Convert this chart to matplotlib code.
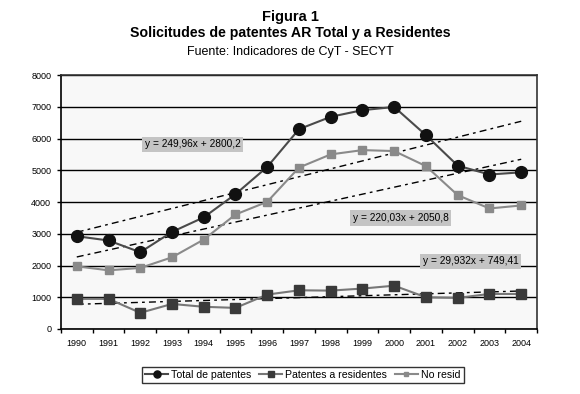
import matplotlib
matplotlib.use("Agg")
import matplotlib.pyplot as plt
import numpy as np

plt.rcParams["font.family"] = ["Liberation Sans", "DejaVu Sans"]

years = ["1990", "1991", "1992", "1993", "1994", "1995", "1996", "1997",
         "1998", "1999", "2000", "2001", "2002", "2003", "2004"]
total = [2925, 2790, 2420, 3060, 3520, 4250, 5110, 6300, 6690, 6900, 7000,
         6110, 5150, 4870, 4940]
residentes = [950, 950, 510, 790, 700, 665, 1085, 1220, 1210, 1275, 1365,
              1000, 980, 1105, 1105]
no_resid = [1975, 1850, 1925, 2260, 2820, 3610, 4010, 5090, 5505, 5640, 5610,
            5135, 4220, 3800, 3895]

# linear trend coefficients (slope, intercept), x = 1..15
trend_total = (249.96, 2800.2)
trend_nores = (220.03, 2050.8)
trend_res = (29.932, 749.41)
eq_labels = ["y = 249,96x + 2800,2", "y = 220,03x + 2050,8", "y = 29,932x + 749,41"]

fig = plt.figure(figsize=(5.8, 3.94), dpi=100)
ax = fig.add_axes([0.105, 0.165, 0.821, 0.644])
ax.set_facecolor("#f8f8f8")

x = np.arange(len(years))
xn = x + 1

for (m, b) in [trend_total, trend_nores, trend_res]:
    ax.plot([x[0], x[-1]], [m * xn[0] + b, m * xn[-1] + b], color="black",
            lw=1.0, linestyle=(0, (5, 3, 2, 3)), zorder=2)

ax.plot(x, no_resid, color="#8a8a8a", lw=1.5, marker="s", ms=6,
        mfc="#8a8a8a", mec="#8a8a8a", label="No resid", zorder=3)
ax.plot(x, residentes, color="#777777", lw=1.5, marker="s", ms=7.5,
        mfc="#3a3a3a", mec="#3a3a3a", label="Patentes a residentes", zorder=3)
ax.plot(x, total, color="#4a4a4a", lw=1.5, marker="o", ms=8.5,
        mfc="#111111", mec="#111111", label="Total de patentes", zorder=4)

box = dict(boxstyle="square,pad=0.25", fc="#c4c4c4", ec="none")
ax.text(3.65, 5830, eq_labels[0], fontsize=7.3, ha="center", va="center", bbox=box, zorder=5)
ax.text(10.2, 3500, eq_labels[1], fontsize=7.3, ha="center", va="center", bbox=box, zorder=5)
ax.text(12.4, 2130, eq_labels[2], fontsize=7.3, ha="center", va="center", bbox=box, zorder=5)

ax.set_xlim(-0.5, len(years) - 0.5)
ax.set_ylim(0, 8000)
ax.set_yticks(range(0, 8001, 1000))
ax.tick_params(axis="y", labelsize=6.5, length=3, width=1, pad=4)
ax.set_xticks(x)
ax.set_xticklabels(years)
ax.set_xticks(np.arange(-0.5, len(years), 1), minor=True)
ax.tick_params(axis="x", which="major", length=0, labelsize=6.5, pad=7)
ax.tick_params(axis="x", which="minor", length=3, width=1)
ax.yaxis.grid(True, color="black", lw=1.0)
ax.set_axisbelow(True)
for s in ["left", "bottom"]:
    ax.spines[s].set_color("black")
    ax.spines[s].set_linewidth(1.2)
for s in ["top", "right"]:
    ax.spines[s].set_color("#333333")
    ax.spines[s].set_linewidth(1.2)

h, l = ax.get_legend_handles_labels()
order = [2, 1, 0]
leg = fig.legend([h[i] for i in order], [l[i] for i in order], loc="center",
                 bbox_to_anchor=(0.522, 0.048), ncol=3, fontsize=7.6, frameon=True,
                 fancybox=False, edgecolor="black", handlelength=2.2,
                 handletextpad=0.3, columnspacing=0.7, borderpad=0.3,
                 markerscale=0.6)
leg.get_frame().set_linewidth(1.0)

fig.text(0.5, 0.958, "Figura 1", ha="center", va="center", fontsize=10.5, fontweight="bold")
fig.text(0.5, 0.916, "Solicitudes de patentes AR Total y a Residentes", ha="center",
         va="center", fontsize=10.2, fontweight="bold")
fig.text(0.5, 0.868, "Fuente: Indicadores de CyT - SECYT", ha="center", va="center",
         fontsize=9)

fig.savefig("out.png", dpi=100)
